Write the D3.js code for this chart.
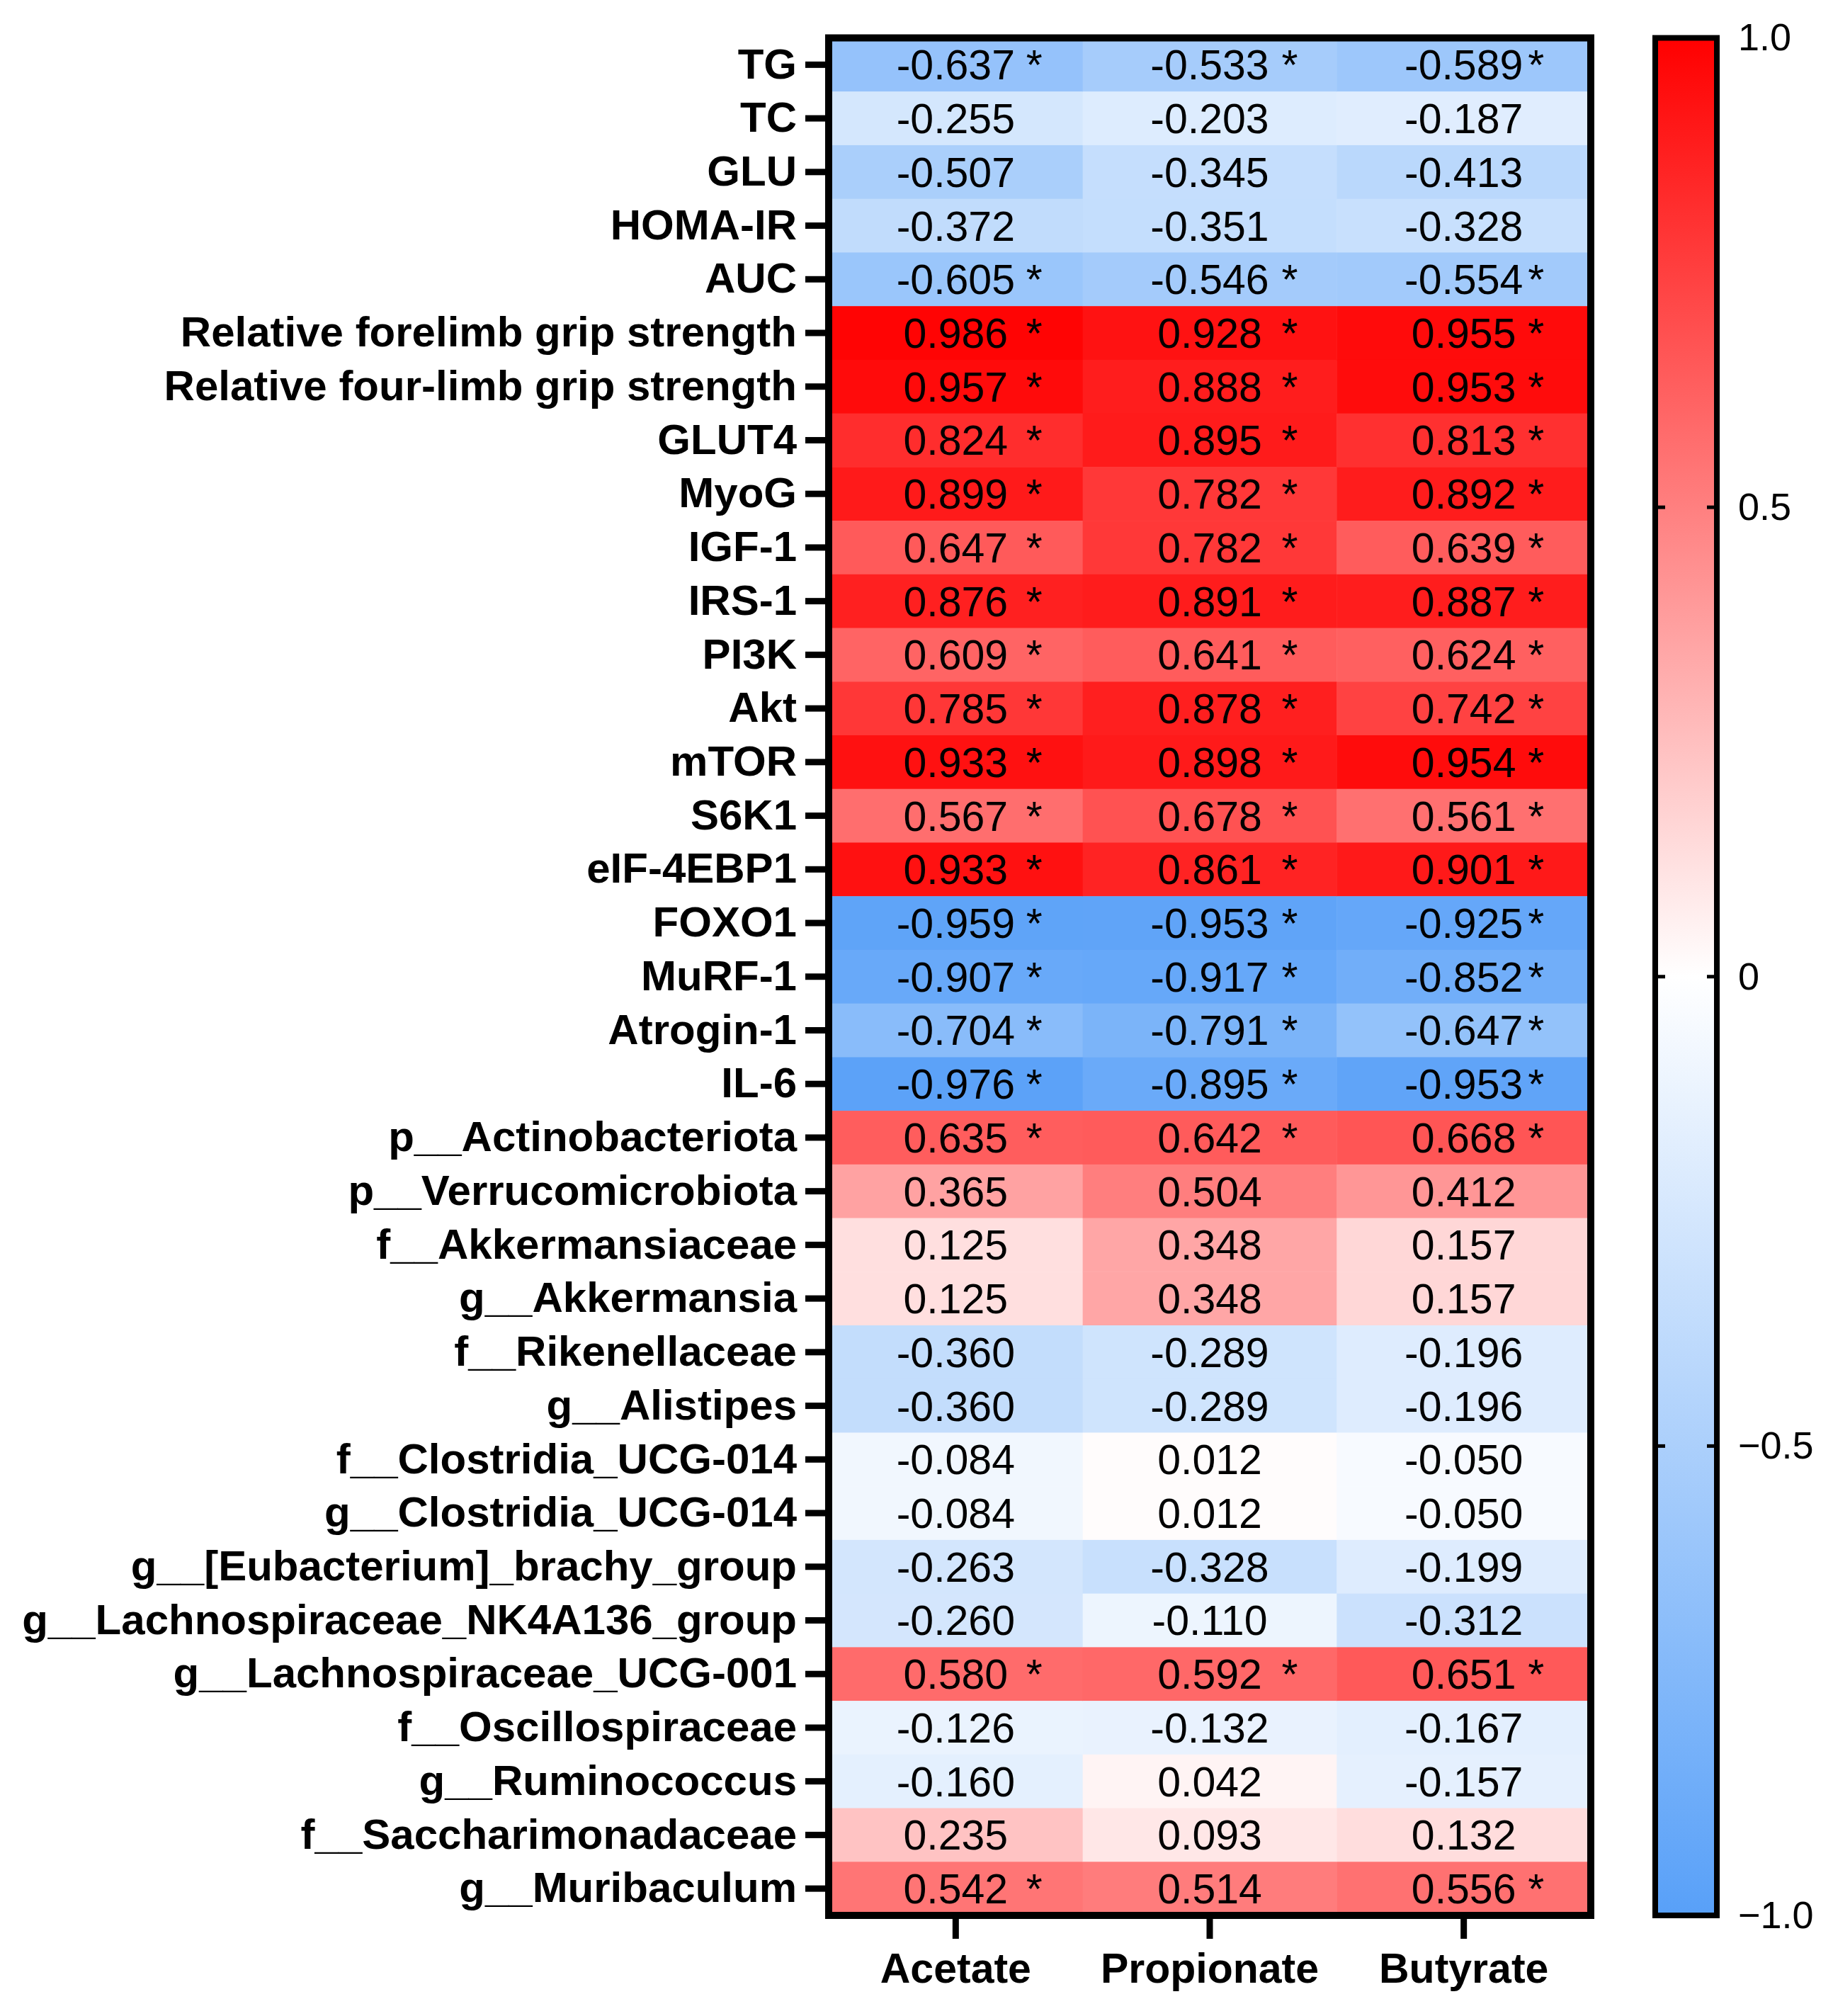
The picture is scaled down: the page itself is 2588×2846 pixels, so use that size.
<!DOCTYPE html>
<html>
<head>
<meta charset="utf-8">
<script src="https://cdn.jsdelivr.net/npm/d3@7"></script>
<style>
  body { margin: 0; background: #fff; }
  text { font-family: "Liberation Sans", Arial, sans-serif; }
</style>
</head>
<body>
<div id="chart"></div>
<script>
const rowLabels = [
    "TG", "TC", "GLU", "HOMA-IR", "AUC",
    "Relative forelimb grip strength", "Relative four-limb grip strength",
    "GLUT4", "MyoG", "IGF-1", "IRS-1", "PI3K", "Akt", "mTOR", "S6K1", "eIF-4EBP1",
    "FOXO1", "MuRF-1", "Atrogin-1", "IL-6",
    "p__Actinobacteriota", "p__Verrucomicrobiota", "f__Akkermansiaceae", "g__Akkermansia",
    "f__Rikenellaceae", "g__Alistipes", "f__Clostridia_UCG-014", "g__Clostridia_UCG-014",
    "g__[Eubacterium]_brachy_group", "g__Lachnospiraceae_NK4A136_group",
    "g__Lachnospiraceae_UCG-001", "f__Oscillospiraceae", "g__Ruminococcus",
    "f__Saccharimonadaceae", "g__Muribaculum"
];
const columns = ["Acetate", "Propionate", "Butyrate"];

const acetate = [-0.637, -0.255, -0.507, -0.372, -0.605, 0.986, 0.957, 0.824, 0.899, 0.647,
    0.876, 0.609, 0.785, 0.933, 0.567, 0.933, -0.959, -0.907, -0.704, -0.976,
    0.635, 0.365, 0.125, 0.125, -0.360, -0.360, -0.084, -0.084, -0.263, -0.260,
    0.580, -0.126, -0.160, 0.235, 0.542];
const propionate = [-0.533, -0.203, -0.345, -0.351, -0.546, 0.928, 0.888, 0.895, 0.782, 0.782,
    0.891, 0.641, 0.878, 0.898, 0.678, 0.861, -0.953, -0.917, -0.791, -0.895,
    0.642, 0.504, 0.348, 0.348, -0.289, -0.289, 0.012, 0.012, -0.328, -0.110,
    0.592, -0.132, 0.042, 0.093, 0.514];
const butyrate = [-0.589, -0.187, -0.413, -0.328, -0.554, 0.955, 0.953, 0.813, 0.892, 0.639,
    0.887, 0.624, 0.742, 0.954, 0.561, 0.901, -0.925, -0.852, -0.647, -0.953,
    0.668, 0.412, 0.157, 0.157, -0.196, -0.196, -0.050, -0.050, -0.199, -0.312,
    0.651, -0.167, -0.157, 0.132, 0.556];

// 1 = significant (asterisk)
const acetateSig =    [1,0,0,0,1, 1,1,1,1,1,1,1,1,1,1,1, 1,1,1,1, 1,0,0,0,0,0,0,0,0,0,1,0,0,0,1];
const propionateSig = [1,0,0,0,1, 1,1,1,1,1,1,1,1,1,1,1, 1,1,1,1, 1,0,0,0,0,0,0,0,0,0,1,0,0,0,0];
const butyrateSig =   [1,0,0,0,1, 1,1,1,1,1,1,1,1,1,1,1, 1,1,1,1, 1,0,0,0,0,0,0,0,0,0,1,0,0,0,1];

const colorTicks = [1, 0.5, 0, -0.5, -1];

const seriesValues = [acetate, propionate, butyrate];
const seriesSig = [acetateSig, propionateSig, butyrateSig];
const starOffset = [111, 113, 102];

const W = 2588, H = 2846;
const mapLeft = 1170, mapRight = 2246, mapTop = 53.5, mapBottom = 2704;

const svg = d3.select("#chart").append("svg")
    .attr("width", W)
    .attr("height", H);

svg.append("rect").attr("width", W).attr("height", H).attr("fill", "#fff");

const y = d3.scaleBand().domain(rowLabels).range([mapTop, mapBottom]);
const x = d3.scaleBand().domain(columns).range([mapLeft, mapRight]);

const color = d3.scaleLinear()
    .domain([-1, 0, 1])
    .range(["#58a0f8", "#ffffff", "#ff0000"])
    .clamp(true);

const cells = [];
columns.forEach(function (c, j) {
    rowLabels.forEach(function (r, i) {
        cells.push({row: r, col: c, j: j, v: seriesValues[j][i], sig: seriesSig[j][i]});
    });
});

svg.append("g").selectAll("rect")
    .data(cells)
    .enter().append("rect")
    .attr("x", d => x(d.col))
    .attr("y", d => y(d.row))
    .attr("width", x.bandwidth() + 0.5)
    .attr("height", y.bandwidth() + 0.5)
    .attr("fill", d => color(d.v));

const labels = svg.append("g");
labels.selectAll("text.val")
    .data(cells)
    .enter().append("text")
    .attr("class", "val")
    .attr("x", d => x(d.col) + x.bandwidth() / 2)
    .attr("y", d => y(d.row) + y.bandwidth() / 2 + 21)
    .attr("text-anchor", "middle")
    .attr("font-size", 59)
    .attr("fill", "#000")
    .text(d => d.v.toFixed(3));

labels.selectAll("text.star")
    .data(cells.filter(d => d.sig))
    .enter().append("text")
    .attr("class", "star")
    .attr("x", d => x(d.col) + x.bandwidth() / 2 + starOffset[d.j])
    .attr("y", d => y(d.row) + y.bandwidth() / 2 + 21)
    .attr("text-anchor", "middle")
    .attr("font-size", 59)
    .attr("fill", "#000")
    .text("*");

// frame
svg.append("rect")
    .attr("x", mapLeft).attr("y", mapTop)
    .attr("width", mapRight - mapLeft).attr("height", mapBottom - mapTop)
    .attr("fill", "none").attr("stroke", "#000").attr("stroke-width", 10);

// axes
const yAxis = svg.append("g")
    .attr("transform", "translate(" + (mapLeft - 5) + ",0)")
    .call(d3.axisLeft(y).tickSize(28).tickPadding(12));
yAxis.select(".domain").remove();
yAxis.selectAll(".tick line").attr("stroke", "#000").attr("stroke-width", 9);
yAxis.selectAll(".tick text")
    .attr("font-size", 60).attr("font-weight", "bold").attr("fill", "#000")
    .attr("font-family", "'Liberation Sans', Arial, sans-serif");

const xAxis = svg.append("g")
    .attr("transform", "translate(0," + (mapBottom + 5) + ")")
    .call(d3.axisBottom(x).tickSize(28).tickPadding(20));
xAxis.select(".domain").remove();
xAxis.selectAll(".tick line").attr("stroke", "#000").attr("stroke-width", 9);
xAxis.selectAll(".tick text")
    .attr("font-size", 59).attr("font-weight", "bold").attr("fill", "#000")
    .attr("font-family", "'Liberation Sans', Arial, sans-serif");

// colour bar
const cbLeft = 2337, cbRight = 2424;
const cy = d3.scaleLinear().domain([-1, 1]).range([mapBottom, mapTop]);

const defs = svg.append("defs");
const grad = defs.append("linearGradient")
    .attr("id", "cbar")
    .attr("x1", 0).attr("y1", 1).attr("x2", 0).attr("y2", 0);
[-1, 0, 1].forEach(function (v) {
    grad.append("stop")
        .attr("offset", (v + 1) / 2)
        .attr("stop-color", color(v));
});

svg.append("rect")
    .attr("x", cbLeft).attr("y", cy(1))
    .attr("width", cbRight - cbLeft).attr("height", cy(-1) - cy(1))
    .attr("fill", "url(#cbar)")
    .attr("stroke", "#000").attr("stroke-width", 8);

const innerTicks = svg.append("g");
innerTicks.selectAll("line.l")
    .data(colorTicks.filter(v => Math.abs(v) < 1))
    .enter().append("line")
    .attr("x1", cbLeft).attr("x2", cbLeft + 14)
    .attr("y1", d => cy(d)).attr("y2", d => cy(d))
    .attr("stroke", "#000").attr("stroke-width", 5);
innerTicks.selectAll("line.r")
    .data(colorTicks.filter(v => Math.abs(v) < 1))
    .enter().append("line")
    .attr("x1", cbRight - 14).attr("x2", cbRight)
    .attr("y1", d => cy(d)).attr("y2", d => cy(d))
    .attr("stroke", "#000").attr("stroke-width", 5);

const cAxis = svg.append("g")
    .attr("transform", "translate(" + (cbRight + 4) + ",0)")
    .call(d3.axisRight(cy)
        .tickValues(colorTicks)
        .tickSize(0)
        .tickPadding(26)
        .tickFormat(d => d === 0 ? "0" : d3.format(".1f")(d)));
cAxis.select(".domain").remove();
cAxis.selectAll(".tick text")
    .attr("font-size", 54).attr("fill", "#000")
    .attr("font-family", "'Liberation Sans', Arial, sans-serif");
</script>
</body>
</html>
